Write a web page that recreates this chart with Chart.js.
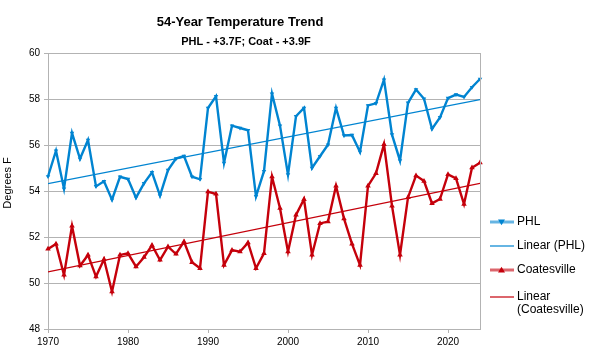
<!DOCTYPE html>
<html>
<head>
<meta charset="utf-8">
<script src="https://cdn.jsdelivr.net/npm/chart.js@4"></script>
<style>
html,body{margin:0;padding:0;background:#fff;}
#wrap{width:590px;height:356px;position:relative;}
</style>
</head>
<body>
<div id="wrap"><canvas id="c" width="590" height="356"></canvas></div>
<script>
const chartTitle = "54-Year Temperature Trend";
const chartSubtitle = "PHL - +3.7F; Coat - +3.9F";
const yAxisTitle = "Degrees F";

const years = [
  1970,1971,1972,1973,1974,1975,1976,1977,1978,1979,
  1980,1981,1982,1983,1984,1985,1986,1987,1988,1989,
  1990,1991,1992,1993,1994,1995,1996,1997,1998,1999,
  2000,2001,2002,2003,2004,2005,2006,2007,2008,2009,
  2010,2011,2012,2013,2014,2015,2016,2017,2018,2019,
  2020,2021,2022,2023,2024
];
const phl = [
  54.63,55.75,54.10,56.52,55.40,56.22,54.20,54.42,53.62,54.62,
  54.52,53.71,54.33,54.81,53.80,54.91,55.41,55.52,54.62,54.51,
  57.61,58.12,55.22,56.84,56.74,56.64,53.77,54.86,58.23,56.84,
  54.71,57.25,57.61,55.00,55.51,56.01,57.61,56.41,56.43,55.70,
  57.72,57.81,58.84,56.45,55.32,57.83,58.41,58.01,56.70,57.20,
  58.04,58.19,58.09,58.51,58.87
];
const coatesville = [
  51.48,51.70,50.35,52.48,50.75,51.22,50.28,51.03,49.62,51.22,
  51.29,50.71,51.12,51.64,51.00,51.58,51.26,51.80,50.90,50.64,
  53.97,53.87,50.78,51.43,51.36,51.75,50.64,51.29,54.62,53.25,
  51.36,52.96,53.64,51.22,52.59,52.67,54.22,52.80,51.70,50.78,
  54.22,54.77,56.03,53.35,51.22,53.72,54.67,54.43,53.46,53.65,
  54.72,54.55,53.43,55.01,55.23
];
const trendYears = [1970, 2024];
const phlTrend = [54.32, 57.97];
const coatTrend = [50.48, 54.33];
const xTicks = [1970, 1980, 1990, 2000, 2010, 2020];
const yTicks = [48, 50, 52, 54, 56, 58, 60];
const legendLabels = ["PHL", "Linear (PHL)", "Coatesville", ["Linear", "(Coatesville)"]];

const BLUE = "#0084d1";
const RED = "#c5000b";
const GRID = "#b3b3b3";
const FONT = "'Liberation Sans', Arial, sans-serif";

const pts = (xs, ys) => xs.map((x, i) => ({x: x, y: ys[i]}));

const decorPlugin = {
  id: "decor",
  afterDraw(chart) {
    const ctx = chart.ctx;
    const a = chart.chartArea;
    ctx.save();
    // right border of plot
    ctx.strokeStyle = GRID;
    ctx.lineWidth = 1;
    ctx.beginPath();
    ctx.moveTo(Math.round(a.right) + 0.5, a.top);
    ctx.lineTo(Math.round(a.right) + 0.5, a.bottom);
    ctx.stroke();
    // titles
    ctx.fillStyle = "#000";
    ctx.textAlign = "center";
    ctx.textBaseline = "middle";
    ctx.font = "bold 13px " + FONT;
    ctx.fillText(chartTitle, 240, 22);
    ctx.font = "bold 11px " + FONT;
    ctx.fillText(chartSubtitle, 246, 42);
    // y axis title
    ctx.save();
    ctx.translate(8, 183);
    ctx.rotate(-Math.PI / 2);
    ctx.font = "11px " + FONT;
    ctx.fillText(yAxisTitle, 0, 0);
    ctx.restore();
    // legend
    const items = [
      {label: legendLabels[0], color: BLUE, thick: true, marker: "down", y: 222},
      {label: legendLabels[1], color: BLUE, thick: false, marker: null, y: 246},
      {label: legendLabels[2], color: RED, thick: true, marker: "up", y: 270},
      {label: legendLabels[3], color: RED, thick: false, marker: null, y: 297}
    ];
    const x0 = 490, x1 = 514, tx = 517;
    items.forEach(it => {
      ctx.save();
      ctx.strokeStyle = it.color;
      if (it.thick) { ctx.globalAlpha = 0.6; ctx.lineWidth = 3; } else { ctx.lineWidth = 1.2; }
      ctx.beginPath();
      ctx.moveTo(x0, it.y);
      ctx.lineTo(x1, it.y);
      ctx.stroke();
      ctx.restore();
      if (it.marker) {
        const cx = 501.5, cy = it.y, r = 3.5;
        ctx.fillStyle = it.color;
        ctx.beginPath();
        if (it.marker === "down") {
          ctx.moveTo(cx - r, cy - r * 0.7);
          ctx.lineTo(cx + r, cy - r * 0.7);
          ctx.lineTo(cx, cy + r * 0.9);
        } else {
          ctx.moveTo(cx - r, cy + r * 0.7);
          ctx.lineTo(cx + r, cy + r * 0.7);
          ctx.lineTo(cx, cy - r * 0.9);
        }
        ctx.closePath();
        ctx.fill();
      }
      ctx.fillStyle = "#000";
      ctx.textAlign = "left";
      ctx.textBaseline = "middle";
      ctx.font = "12px " + FONT;
      if (Array.isArray(it.label)) {
        it.label.forEach((t, k) => ctx.fillText(t, tx, it.y + k * 13));
      } else {
        ctx.fillText(it.label, tx, it.y);
      }
    });
    ctx.restore();
  }
};

new Chart(document.getElementById("c"), {
  type: "line",
  data: {
    datasets: [
      {
        label: "Linear (Coatesville)",
        data: pts(trendYears, coatTrend),
        borderColor: RED, borderWidth: 1.2, pointRadius: 0, order: 1
      },
      {
        label: "Coatesville",
        data: pts(years, coatesville),
        borderColor: RED, backgroundColor: RED, borderWidth: 2.4,
        pointStyle: "triangle", pointRadius: 3.2, pointBorderWidth: 0,
        clip: false, order: 2
      },
      {
        label: "Linear (PHL)",
        data: pts(trendYears, phlTrend),
        borderColor: BLUE, borderWidth: 1.2, pointRadius: 0, order: 3
      },
      {
        label: "PHL",
        data: pts(years, phl),
        borderColor: BLUE, backgroundColor: BLUE, borderWidth: 2.4,
        pointStyle: "triangle", pointRotation: 180, pointRadius: 2.6, pointBorderWidth: 0,
        clip: false, order: 4
      }
    ]
  },
  options: {
    responsive: false,
    animation: false,
    devicePixelRatio: 1,
    layout: {padding: {left: 0, right: 110, top: 53, bottom: 0}},
    plugins: {legend: {display: false}, title: {display: false}, tooltip: {enabled: false}},
    elements: {line: {tension: 0}},
    scales: {
      x: {
        type: "linear",
        min: 1970, max: 2024,
        afterFit: s => { s.height = 27; },
        afterBuildTicks: s => { s.ticks = xTicks.map(v => ({value: v})); },
        ticks: {
          callback: v => String(v),
          font: {family: FONT, size: 10}, color: "#000",
          maxRotation: 0, autoSkip: false, padding: 3
        },
        grid: {drawOnChartArea: false, color: GRID, tickLength: 4},
        border: {color: GRID}
      },
      y: {
        min: 48, max: 60,
        afterFit: s => { s.width = 48; },
        afterBuildTicks: s => { s.ticks = yTicks.map(v => ({value: v})); },
        ticks: {
          callback: v => String(v),
          font: {family: FONT, size: 10}, color: "#000", padding: 4
        },
        grid: {color: GRID, tickLength: 4},
        border: {color: GRID}
      }
    }
  },
  plugins: [decorPlugin]
});
</script>
</body>
</html>
